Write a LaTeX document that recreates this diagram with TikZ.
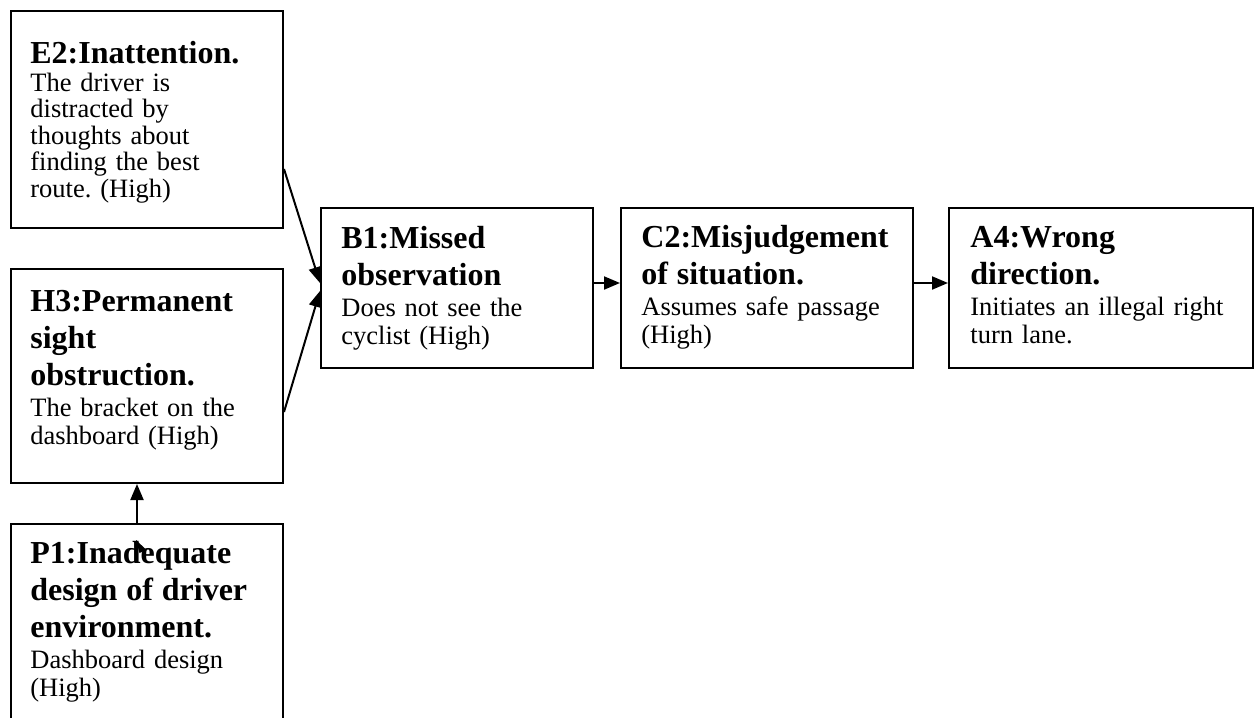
\documentclass[tikz,border=0pt]{standalone}
\usepackage{fontspec}
\setmainfont{Liberation Serif}
\usetikzlibrary{arrows.meta,calc}
\setlength{\parindent}{0pt}
\frenchspacing

% bold heading lines, then a little extra space before the description
\newlength{\headgap}
\setlength{\headgap}{1.5pt}
\newcommand{\headline}[1]{{\fontsize{16}{18.5}\bfseries\selectfont\rule{0pt}{12pt}#1\par}\vspace{\headgap}}

\tikzset{
  factor/.style={draw, line width=1pt, inner sep=0pt, anchor=north west},
  label text/.style={anchor=north west, inner sep=0pt, text width=140pt, align=left,
                     font=\fontsize{13.25}{14}\selectfont},
  tight text/.style={font=\fontsize{13.25}{13.25}\selectfont\setlength{\headgap}{0.6pt}},
  link/.style={line width=1pt, -{Triangle[length=8pt,width=6.5pt]}}
}

\begin{document}
\begin{tikzpicture}[x=0.5pt,y=-0.5pt]
  \fill[white] (0,0) rectangle (1254,718);
  \clip (0,0) rectangle (1254,718);

  % boxes
  \node[factor, minimum width=136pt, minimum height=108.5pt] (e2) at (10,10) {};
  \node[factor, minimum width=136pt, minimum height=107pt]   (h3) at (10,268) {};
  \node[factor, minimum width=136pt, minimum height=115pt]   (p1) at (10,523) {};
  \node[factor, minimum width=136pt, minimum height=80pt]    (b1) at (320,207) {};
  \node[factor, minimum width=146pt, minimum height=80pt]    (c2) at (620,207) {};
  \node[factor, minimum width=152pt, minimum height=80pt]    (a4) at (948,207) {};

  % texts
  \node[label text, tight text] (e2t) at (30,39)
    {\headline{E2:Inattention.}The driver is\\distracted by\\thoughts about\\finding the best\\route. (High)};
  \node[label text] (h3t) at (30,287)
    {\headline{H3:Permanent\\sight\\obstruction.}The bracket on the\\dashboard (High)};
  \node[label text] (p1t) at (30,539)
    {\headline{P1:Inadequate\\design of driver\\environment.}Dashboard design\\(High)};
  \node[label text] (b1t) at (341,224)
    {\headline{B1:Missed\\observation}Does not see the\\cyclist (High)};
  \node[label text] (c2t) at (641,223)
    {\headline{C2:Misjudgement\\of situation.}Assumes safe passage\\(High)};
  \node[label text] (a4t) at (970,223)
    {\headline{A4:Wrong\\direction.}Initiates an illegal right\\turn lane.};

  % connectors
  \draw[link] ($(e2.south east)+(0,-60)$) -- ($(b1.west)+(0,-5)$);
  \draw[link] ($(h3.south east)+(0,-72)$) -- ($(b1.west)+(0,3)$);
  \draw[link] ($(p1.north)+(-10,0)$) -- ($(h3.south)+(-10,0)$);
  \draw[link] ($(b1.east)+(0,-5)$) -- ($(c2.west)+(0,-5)$);
  \draw[link] ($(c2.east)+(0,-5)$) -- ($(a4.west)+(0,-5)$);

  % small loose arrow tip inside the P1 box
  \fill (136,540) -- (146.5,550) -- (139.5,553) -- cycle;
\end{tikzpicture}
\end{document}
